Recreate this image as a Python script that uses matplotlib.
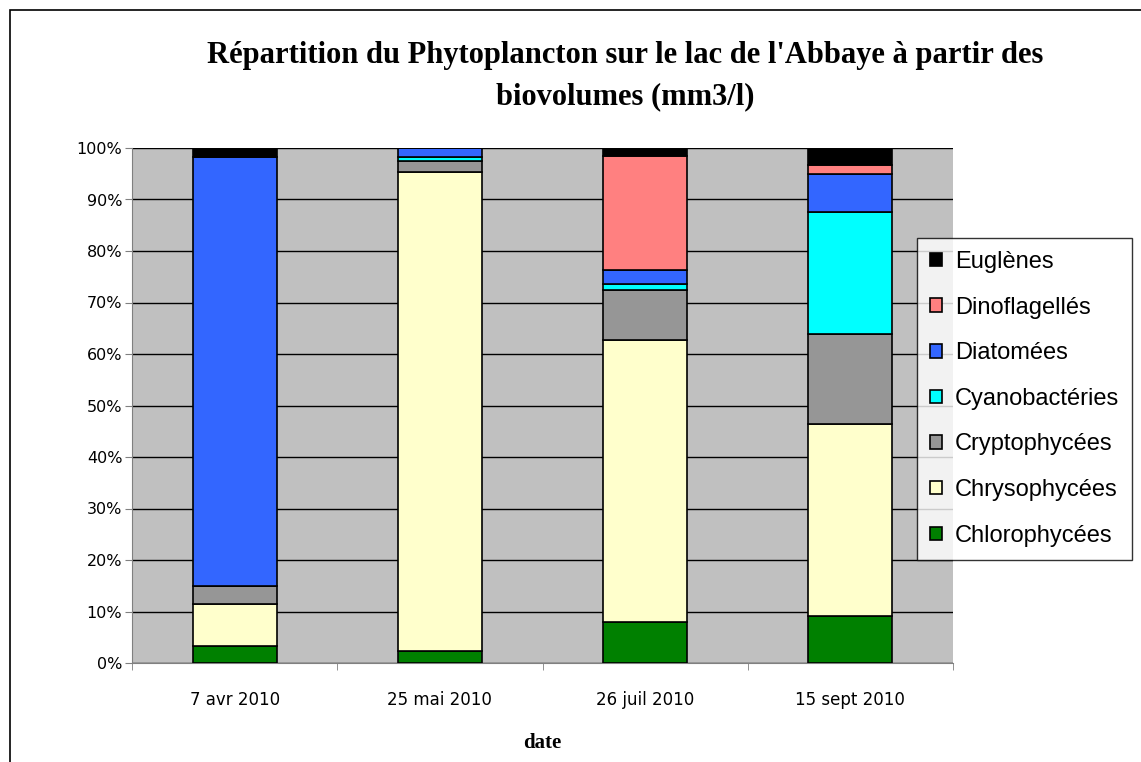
import matplotlib.pyplot as plt
from matplotlib.patches import Rectangle
from matplotlib.ticker import FixedLocator, PercentFormatter

dates = ['7 avr 2010', '25 mai 2010', '26 juil 2010', '15 sept 2010']
groups = ['Chlorophycées', 'Chrysophycées', 'Cryptophycées', 'Cyanobactéries',
          'Diatomées', 'Dinoflagellés', 'Euglènes']
chloro = [3.3, 2.4, 8.0, 9.1]
chryso = [8.2, 92.9, 54.7, 37.3]
crypto = [3.4, 2.2, 9.7, 17.5]
cyano = [0.0, 0.7, 1.1, 23.7]
diatom = [83.4, 1.8, 2.8, 7.3]
dino = [0.0, 0.0, 22.1, 1.8]
eugl = [1.7, 0.0, 1.6, 3.3]
series = [chloro, chryso, crypto, cyano, diatom, dino, eugl]
colors = ['#008000', '#FFFFCC', '#969696', '#00FFFF', '#3366FF', '#FF8080', '#000000']

fig = plt.figure(figsize=(11.41, 7.62), dpi=100)
fig.patches.append(Rectangle((10 / 1141, -0.05), 1.2, 1 - 10 / 762 + 0.05,
                             transform=fig.transFigure, fill=False,
                             edgecolor='black', lw=1.2))

ax = fig.add_axes([132 / 1141, 1 - 663 / 762, 821 / 1141, 515 / 762])
ax.set_facecolor('#C0C0C0')

x = range(len(dates))
bottom = [0.0] * len(dates)
for vals, col, name in zip(series, colors, groups):
    ax.bar(x, vals, width=0.41, bottom=bottom, color=col, edgecolor='black',
           lw=1.2, label=name, zorder=3)
    bottom = [b + v for b, v in zip(bottom, vals)]

ax.set_xlim(-0.5, 3.5)
ax.set_ylim(0, 100)
ax.yaxis.set_major_locator(FixedLocator(range(0, 101, 10)))
ax.yaxis.set_major_formatter(PercentFormatter(decimals=0))
ax.grid(axis='y', color='black', lw=1, zorder=1)
ax.set_xticks(list(x))
ax.set_xticklabels(dates)
ax.set_xticks([i - 0.5 for i in range(5)], minor=True)
ax.tick_params(axis='x', which='major', length=0, pad=20, labelsize=12)
ax.tick_params(axis='x', which='minor', length=5, color='#808080')
ax.tick_params(axis='y', length=5, pad=2, color='#808080', labelsize=11.5)
for side in ['left', 'bottom']:
    ax.spines[side].set_color('#808080')
for side in ['top', 'right']:
    ax.spines[side].set_visible(False)

fig.text(625 / 1141, 1 - 55 / 762,
         "Répartition du Phytoplancton sur le lac de l'Abbaye à partir des",
         ha='center', va='center', family='Liberation Serif', weight='bold', fontsize=22)
fig.text(625 / 1141, 1 - 97 / 762, 'biovolumes (mm3/l)',
         ha='center', va='center', family='Liberation Serif', weight='bold', fontsize=22)
fig.text(542 / 1141, 1 - 743 / 762, 'date', ha='center', va='center',
         family='Liberation Serif', weight='bold', fontsize=15)

h, l = ax.get_legend_handles_labels()
leg = fig.legend(h[::-1], l[::-1], loc='upper left',
                 bbox_to_anchor=(917 / 1141, 1 - 238 / 762),
                 prop={'family': 'Liberation Sans', 'size': 17},
                 frameon=True, fancybox=False, edgecolor='black',
                 handlelength=0.5, handleheight=0.5, handletextpad=0.55,
                 labelspacing=1.0, borderpad=0.55, borderaxespad=0)
leg.get_frame().set_linewidth(1)

fig.savefig('out.png', dpi=100)
